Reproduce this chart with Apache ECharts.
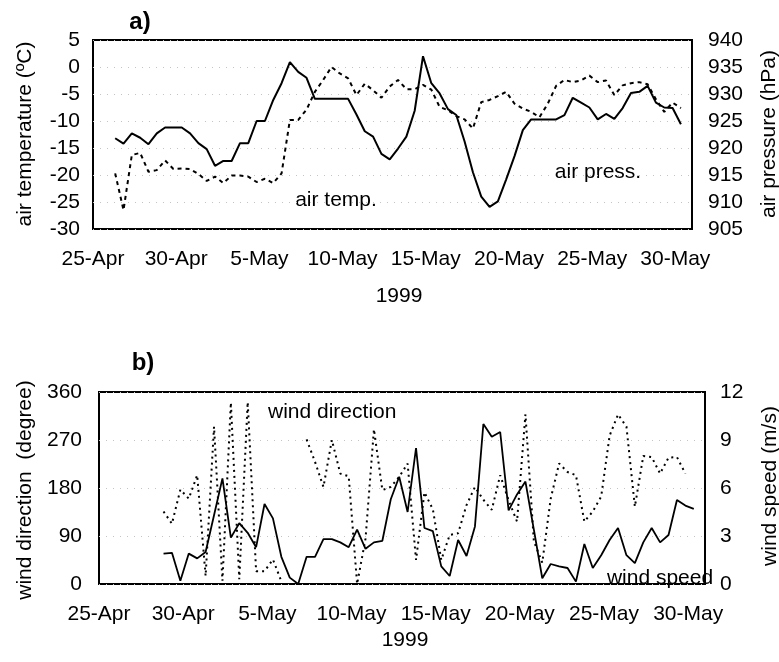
<!DOCTYPE html>
<html>
<head>
<meta charset="utf-8">
<script src="https://cdn.jsdelivr.net/npm/echarts@6/dist/echarts.min.js"></script>
<style>
html,body{margin:0;padding:0;background:#fff;}
#c{width:779px;height:662px;}
</style>
</head>
<body>
<div id="c"></div>
<script>
// Observations twice daily (08:00 and 20:00), first one on 26-Apr 08:00
const firstObsDay = 1 + 8 / 24;   // days after 25-Apr 00:00
const stepDays = 0.5;

// a) air pressure (hPa), solid line, right axis
const airPress = [
  921.8, 920.8, 922.7, 921.9, 920.7,
  922.7, 923.8, 923.8, 923.8, 922.7,
  920.9, 919.8, 916.7, 917.6, 917.6,
  920.9, 920.9, 925.0, 925.0, 928.9,
  932.0, 935.9, 934.1, 933.0, 929.1,
  929.1, 929.1, 929.1, 929.1, 926.2,
  923.1, 922.1, 918.9, 917.9, 919.9,
  922.1, 926.9, 937.0, 932.0, 930.1,
  927.2, 926.1, 921.2, 915.5, 911.0,
  909.1, 910.1, 914.2, 918.5, 923.3,
  925.3, 925.3, 925.3, 925.3, 926.1,
  929.3, 928.4, 927.5, 925.3, 926.3,
  925.4, 927.4, 930.2, 930.4, 931.5,
  928.4, 927.5, 927.4, 924.4
];
// a) air temperature (deg C), dashed line, left axis
const airTemp = [
  -19.7, -26.5, -16.3, -15.9, -19.4,
  -19.1, -17.3, -18.9, -18.8, -18.9,
  -19.8, -21.1, -20.3, -21.5, -20.1,
  -20.1, -20.3, -21.3, -20.7, -21.5,
  -19.7, -9.8, -9.8, -7.9, -4.6,
  -2.4, 0.0, -1.2, -2.1, -5.2,
  -3.1, -4.3, -5.7, -3.6, -2.4,
  -4.1, -4.1, -3.3, -4.2, -7.4,
  -8.0, -9.1, -9.7, -11.4, -6.5,
  -6.1, -5.4, -4.6, -6.8, -7.7,
  -8.3, -9.3, -6.8, -3.5, -2.4,
  -2.8, -2.5, -1.6, -2.8, -2.5,
  -5.2, -3.4, -3.0, -2.8, -3.2,
  -6.0, -8.3, -6.6, -7.6
];
// b) wind direction (degree), dotted line, left axis
const windDir = [
  null, null, null, null, null,
  136, 113, 177, 160, 204,
  15, 295, 6, 340, 9,
  341, 24, 24, 46, 5,
  null, null, 271, 229, 182,
  270, 207, 202, 0, 85,
  290, 176, 182, 201, 226,
  45, 172, 140, 45, 92,
  95, 148, 182, 158, 139,
  204, 157, 117, 318, 80,
  40, 160, 226, 210, 204,
  117, 136, 164, 278, 318,
  295, 145, 240, 238, 207,
  237, 238, 207, null
];
// b) wind speed (m/s), solid line, right axis
const windSpeed = [
  null, null, null, null, null,
  1.9, 1.95, 0.2, 1.9, 1.6,
  2.0, 4.3, 6.6, 2.9, 3.8,
  3.2, 2.3, 5.0, 4.1, 1.7,
  0.4, 0.0, 1.7, 1.7, 2.8,
  2.8, 2.6, 2.3, 3.4, 2.2,
  2.6, 2.7, 5.3, 6.7, 4.5,
  8.5, 3.5, 3.3, 1.1, 0.5,
  2.75, 1.75, 3.6, 10.0, 9.2,
  9.5, 4.6, 5.6, 6.4, 3.4,
  0.36, 1.25, 1.1, 1.0, 0.15,
  2.5, 1.0, 1.8, 2.75, 3.5,
  1.8, 1.3, 2.6, 3.5, 2.6,
  3.06, 5.25, 4.9, 4.7
];

const monthNames = ['Jan','Feb','Mar','Apr','May','Jun','Jul','Aug','Sep','Oct','Nov','Dec'];
const tempTicks = [-30, 5, 5];      // min, max, interval
const pressTicks = [905, 940, 5];
const dirTicks = [0, 360, 90];
const speedTicks = [0, 12, 3];
const dayRange = [0, 36, 5];        // 25-Apr .. 31-May
const yearLabel = '1999';

function dayLabel(v) {
  const d = new Date(1999, 3, 25 + Math.round(v));
  return d.getDate() + '-' + monthNames[d.getMonth()];
}
function pairs(arr) {
  return arr.map((v, k) => [firstObsDay + k * stepDays, v == null ? '-' : v]);
}

const FONT = '"Liberation Sans", Arial, Helvetica, sans-serif';
const FS = 21;

function xAx(gi, margin) {
  return {
    type: 'value', gridIndex: gi, min: dayRange[0], max: dayRange[1], interval: dayRange[2],
    axisLine: { show: false }, axisTick: { show: false }, splitLine: { show: false },
    axisLabel: { formatter: dayLabel, showMaxLabel: false, margin: margin,
      color: '#000', fontFamily: FONT, fontSize: FS }
  };
}
function yAx(gi, t, pos, margin, grid) {
  return {
    type: 'value', gridIndex: gi, position: pos, min: t[0], max: t[1], interval: t[2],
    axisLine: { show: false }, axisTick: { show: false },
    splitLine: { show: grid, lineStyle: { color: '#c4c4c4', type: [1, 6], width: 1 } },
    axisLabel: { margin: margin, color: '#000', fontFamily: FONT, fontSize: FS }
  };
}
function txt(x, y, s, opts) {
  return Object.assign({
    type: 'text', x: x, y: y,
    style: Object.assign({ text: s, fill: '#000', font: FS + 'px ' + FONT,
      textAlign: 'center', textVerticalAlign: 'middle' }, (opts && opts.style) || {})
  }, opts && opts.rotation != null ? { rotation: opts.rotation } : {});
}

const chart = echarts.init(document.getElementById('c'), null, { renderer: 'canvas' });
chart.setOption({
  animation: false,
  backgroundColor: '#fff',
  grid: [
    { left: 93, right: 87, top: 40, height: 189, show: true, borderColor: '#000', borderWidth: 2, backgroundColor: 'transparent' },
    { left: 99, right: 74, top: 392, height: 192, show: true, borderColor: '#000', borderWidth: 2, backgroundColor: 'transparent' }
  ],
  xAxis: [xAx(0, 20), xAx(1, 20)],
  yAxis: [
    yAx(0, tempTicks, 'left', 13, true),
    yAx(0, pressTicks, 'right', 16, false),
    yAx(1, dirTicks, 'left', 17, true),
    yAx(1, speedTicks, 'right', 15, false)
  ],
  series: [
    { name: 'air press.', type: 'line', xAxisIndex: 0, yAxisIndex: 1, data: pairs(airPress),
      showSymbol: false, symbol: 'none', lineStyle: { color: '#000', width: 2 }, z: 3 },
    { name: 'air temp.', type: 'line', xAxisIndex: 0, yAxisIndex: 0, data: pairs(airTemp),
      showSymbol: false, symbol: 'none', lineStyle: { color: '#000', width: 2, type: [4, 4] }, z: 2 },
    { name: 'wind direction', type: 'line', xAxisIndex: 1, yAxisIndex: 2, data: pairs(windDir),
      showSymbol: false, symbol: 'none', connectNulls: false,
      lineStyle: { color: '#000', width: 2, type: [2, 4] }, z: 2 },
    { name: 'wind speed', type: 'line', xAxisIndex: 1, yAxisIndex: 3, data: pairs(windSpeed),
      showSymbol: false, symbol: 'none', connectNulls: false,
      lineStyle: { color: '#000', width: 1.8 }, z: 3 }
  ],
  graphic: [
    txt(140, 22, 'a)', { style: { font: 'bold 24px ' + FONT } }),
    txt(143, 363, 'b)', { style: { font: 'bold 24px ' + FONT } }),
    txt(25, 134, 'air temperature (ºC)', { rotation: Math.PI / 2 }),
    txt(769, 134, 'air pressure (hPa)', { rotation: Math.PI / 2 }),
    txt(25, 490, 'wind direction  (degree)', { rotation: Math.PI / 2 }),
    txt(770, 486, 'wind speed (m/s)', { rotation: Math.PI / 2 }),
    txt(399, 296, yearLabel),
    txt(405, 640, yearLabel),
    txt(336, 200, 'air temp.'),
    txt(598, 172, 'air press.'),
    txt(268, 412, 'wind direction', { style: { textAlign: 'left' } }),
    txt(660, 578, 'wind speed')
  ]
});
</script>
</body>
</html>
